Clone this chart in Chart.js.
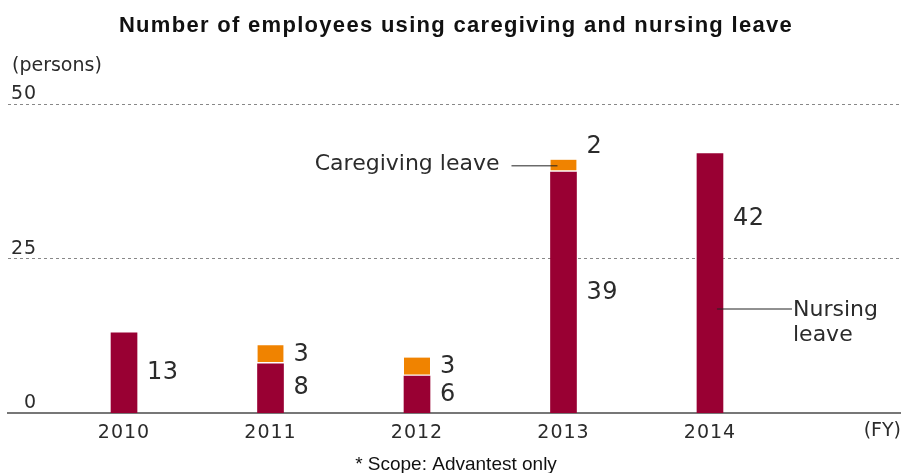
<!DOCTYPE html>
<html>
<head>
<meta charset="utf-8">
<script src="https://cdn.jsdelivr.net/npm/chart.js@4.4.1/dist/chart.umd.min.js"></script>
<style>
  html, body { margin: 0; padding: 0; background: #fff; }
  #wrap { width: 901px; height: 473px; position: relative; }
</style>
</head>
<body>
<div id="wrap"><canvas id="leave"></canvas></div>
<script>
const years = ['2010', '2011', '2012', '2013', '2014']
const nursing = [13, 8, 6, 39, 42]
const caregiving = [null, 3, 3, 2, null]
const yTicks = [0, 25, 50]

const RED = '#990033'
const ORANGE = '#f08300'
const TEXT = '#2b2b2b'
const GOTHIC = "'DejaVu Sans', sans-serif"
const ARIAL = "'Liberation Sans', Arial, sans-serif"

// where each value label sits along its segment (0 = bottom, 1 = top); 'above' puts it over the bar
const labelAt = { 'nursing-2014': 0.75, 'caregiving-2013': 'above' }

// the gothic tick labels are set a little loose
const spacingPlugin = {
  id: 'loose',
  beforeDraw(chart) { chart.ctx.letterSpacing = '1px' },
  afterDraw(chart) { chart.ctx.letterSpacing = '0px' }
}

// title, value labels, leader-line captions and the loose texts around the plot
const textPlugin = {
  id: 'leaveTexts',
  afterDatasetsDraw(chart) {
    const ctx = chart.ctx
    const {chartArea} = chart
    ctx.save()
    ctx.fillStyle = TEXT
    ctx.textBaseline = 'middle'
    ctx.letterSpacing = '0.5px'

    // numbers beside each segment
    ctx.font = '24px ' + GOTHIC
    ctx.textAlign = 'left'
    chart.data.datasets.forEach((ds, di) => {
      const meta = chart.getDatasetMeta(di)
      meta.data.forEach((bar, i) => {
        const v = ds.data[i].y
        if (v == null) return
        const where = labelAt[ds.key + '-' + years[i]] ?? 0.5
        const y = where === 'above' ? bar.y - 13 : bar.base + (bar.y - bar.base) * where
        ctx.fillText(String(v), bar.x + bar.width / 2 + 10, y)
      })
    })

    // caption with leader for the caregiving segment of 2013
    const cg = chart.getDatasetMeta(1).data[3]
    const cgY = (cg.y + cg.base) / 2
    ctx.strokeStyle = '#222'
    ctx.lineWidth = 1
    ctx.beginPath()
    ctx.moveTo(cg.x - 52, cgY)
    ctx.lineTo(cg.x - 6, cgY)
    ctx.stroke()
    ctx.font = '22px ' + GOTHIC
    ctx.letterSpacing = '0px'
    ctx.textAlign = 'right'
    ctx.fillText('Caregiving leave', cg.x - 64, cgY - 2)

    // caption with leader for the nursing bar of 2014
    const nb = chart.getDatasetMeta(0).data[4]
    const nbY = nb.base + (nb.y - nb.base) * 0.4
    ctx.beginPath()
    ctx.moveTo(nb.x + 7, nbY)
    ctx.lineTo(nb.x + 82, nbY)
    ctx.stroke()
    ctx.textAlign = 'left'
    ctx.fillText('Nursing', nb.x + 83, nbY + 1)
    ctx.fillText('leave', nb.x + 83, nbY + 26)

    // unit labels
    ctx.font = '19px ' + GOTHIC
    ctx.textAlign = 'left'
    ctx.fillText('(persons)', 12, 66)
    ctx.textAlign = 'right'
    ctx.fillText('(FY)', 901, chartArea.bottom + 18)

    // title and footnote
    ctx.fillStyle = '#111'
    ctx.textAlign = 'center'
    ctx.font = 'bold 22px ' + ARIAL
    ctx.letterSpacing = '1.3px'
    ctx.fillText('Number of employees using caregiving and nursing leave', 456, 26)
    ctx.font = '19px ' + ARIAL
    ctx.letterSpacing = '0px'
    ctx.fillText('* Scope: Advantest only', 456, 465)
    ctx.restore()
  }
}

new Chart(document.getElementById('leave'), {
  type: 'bar',
  data: {
    datasets: [
      {
        key: 'nursing',
        label: 'Nursing leave',
        data: nursing.map((v, i) => ({x: i, y: v})),
        backgroundColor: RED,
        barThickness: 26
      },
      {
        key: 'caregiving',
        label: 'Caregiving leave',
        data: caregiving.map((v, i) => ({x: i, y: v})),
        backgroundColor: ORANGE,
        borderColor: '#fff',
        borderWidth: {top: 0, left: 0, right: 0, bottom: 2},
        borderSkipped: false,
        barThickness: 26
      }
    ]
  },
  options: {
    responsive: true,
    maintainAspectRatio: false,
    animation: false,
    layout: {
      padding: {left: 8, right: 0, top: 104, bottom: 21}
    },
    scales: {
      x: {
        type: 'linear',
        stacked: true,
        offset: false,
        min: -0.792,
        max: 5.304,
        afterBuildTicks: (scale) => {
          scale.ticks = years.map((_, i) => ({value: i}))
        },
        ticks: {
          padding: 8,
          color: TEXT,
          font: {family: GOTHIC, size: 19},
          callback: (value) => years[value] ?? ''
        },
        grid: {display: false, drawTicks: false, offset: false},
        border: {display: true, color: '#777', width: 2}
      },
      y: {
        stacked: true,
        min: 0,
        max: 50,
        afterBuildTicks: (scale) => {
          scale.ticks = yTicks.map(v => ({value: v}))
        },
        afterFit: (scale) => { scale.width = 0 },
        ticks: {
          mirror: true,
          crossAlign: 'far',
          padding: 5,
          labelOffset: -10,
          color: TEXT,
          font: {family: GOTHIC, size: 19}
        },
        grid: {
          drawTicks: false,
          color: (c) => c.tick && c.tick.value === 0 ? 'rgba(0,0,0,0)' : '#888',
          lineWidth: 1
        },
        border: {display: false, dash: [3, 3]}
      }
    },
    plugins: {
      legend: {display: false},
      tooltip: {enabled: false}
    }
  },
  plugins: [spacingPlugin, textPlugin]
})
</script>
</body>
</html>
